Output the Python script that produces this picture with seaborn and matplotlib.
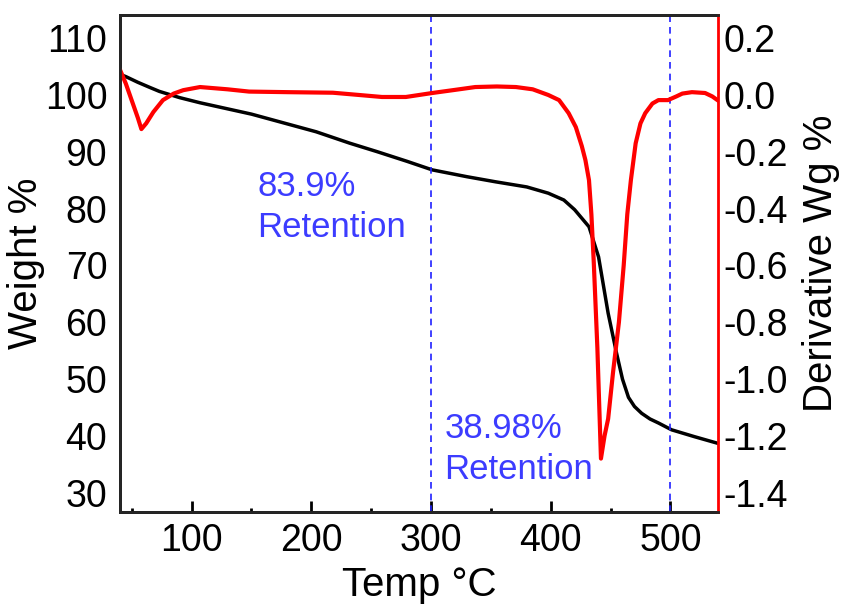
import matplotlib
matplotlib.use("Agg")
import matplotlib.pyplot as plt
import seaborn as sns
from matplotlib.ticker import MultipleLocator

# TGA data
temp_w = [40, 45, 55, 65, 73, 90, 107, 150, 204, 232, 255, 280, 301, 330, 354,
          380, 398, 411, 420, 432, 440, 448, 455, 460, 465, 470, 476, 483, 490,
          501, 520, 540]
weight = [103.6, 103.2, 102.2, 101.3, 100.6, 99.5, 98.6, 96.6, 93.5, 91.5, 90.0,
          88.3, 86.8, 85.6, 84.7, 83.8, 82.7, 81.5, 79.8, 76.8, 71.5, 61.6, 54.6,
          50.0, 46.8, 45.2, 44.0, 43.0, 42.3, 41.1, 39.9, 38.7]

temp_d = [40, 45, 50, 55, 58, 62, 68, 76, 85, 93, 107, 130, 148, 180, 218, 240,
          259, 279, 301, 320, 337, 355, 371, 385, 398, 407, 415, 421, 426, 429,
          432, 434, 436, 439, 442, 445, 448, 452, 457, 461, 464, 467, 471, 475,
          479, 485, 490, 498, 505, 510, 518, 529, 535, 540]
deriv = [0.09, 0.04, -0.02, -0.08, -0.12, -0.10, -0.06, -0.018, 0.005, 0.017,
         0.028, 0.02, 0.012, 0.01, 0.008, 0.0, -0.007, -0.007, 0.007, 0.018,
         0.028, 0.03, 0.028, 0.02, 0.0, -0.018, -0.064, -0.113, -0.18, -0.229,
         -0.30, -0.42, -0.59, -0.89, -1.28, -1.20, -1.14, -0.98, -0.80, -0.60,
         -0.42, -0.30, -0.17, -0.10, -0.064, -0.03, -0.018, -0.018, -0.005,
         0.005, 0.01, 0.007, -0.005, -0.02]

retention_temps = [300, 500]
labels = ["83.9%\nRetention", "38.98%\nRetention"]
label_pos = [(155, 86.7), (311, 44.2)]

sns.set_style("white")
plt.rcParams['font.family'] = ['Liberation Sans', 'DejaVu Sans']
plt.rcParams['text.color'] = 'black'
plt.rcParams['axes.labelcolor'] = 'black'
plt.rcParams['xtick.color'] = 'black'
plt.rcParams['ytick.color'] = 'black'

fig = plt.figure(figsize=(8.44, 6.07), dpi=100)
ax = fig.add_axes([0.142, 0.157, 0.709, 0.818])
ax2 = ax.twinx()

sns.lineplot(x=temp_w, y=weight, ax=ax, color="black", linewidth=2.5)
sns.lineplot(x=temp_d, y=deriv, ax=ax2, color="#ff0000", linewidth=3)

for t in retention_temps:
    ax.axvline(t, color="#2020ff", linestyle=(0, (4, 3)), linewidth=1.2)

for txt, (x, y) in zip(labels, label_pos):
    ax.text(x, y, txt, color="#3c3cff", fontsize=25, va="top", ha="left",
            linespacing=1.3)

ax.set_xlim(40, 540)
ax.set_ylim(26.7, 114)
ax2.set_ylim(-1.467, 0.281)

ax.set_yticks(range(30, 111, 10))
ax2.set_yticks([0.2, 0.0, -0.2, -0.4, -0.6, -0.8, -1.0, -1.2, -1.4])
ax2.set_yticklabels(["0.2", "0.0", "-0.2", "-0.4", "-0.6", "-0.8", "-1.0", "-1.2", "-1.4"])
ax.set_xticks([100, 200, 300, 400, 500])
ax.xaxis.set_minor_locator(MultipleLocator(50))

ax.tick_params(axis="x", which="major", direction="in", length=8, width=2,
               labelsize=27, pad=8, bottom=True, top=False, colors="black")
ax.tick_params(axis="x", which="minor", direction="in", length=3, width=2,
               bottom=True, top=False, colors="black")
ax.tick_params(axis="y", length=0, labelsize=27, pad=9, labelcolor="black")
ax2.tick_params(axis="y", length=0, labelsize=27, pad=4, labelcolor="black")

ax.set_xlabel("Temp °C", fontsize=29, labelpad=5, color="black")
ax.set_ylabel("Weight %", fontsize=29, labelpad=0, color="black")
ax2.set_ylabel("Derivative Wg %", fontsize=29, labelpad=10, color="black")

for side in ["left", "top", "bottom"]:
    ax.spines[side].set_color("black")
    ax.spines[side].set_linewidth(2)
    ax2.spines[side].set_linewidth(2)
ax2.spines["right"].set_color("#ff0000")
ax2.spines["right"].set_linewidth(2)
ax.spines["right"].set_visible(False)

fig.savefig("out.png", dpi=100)
